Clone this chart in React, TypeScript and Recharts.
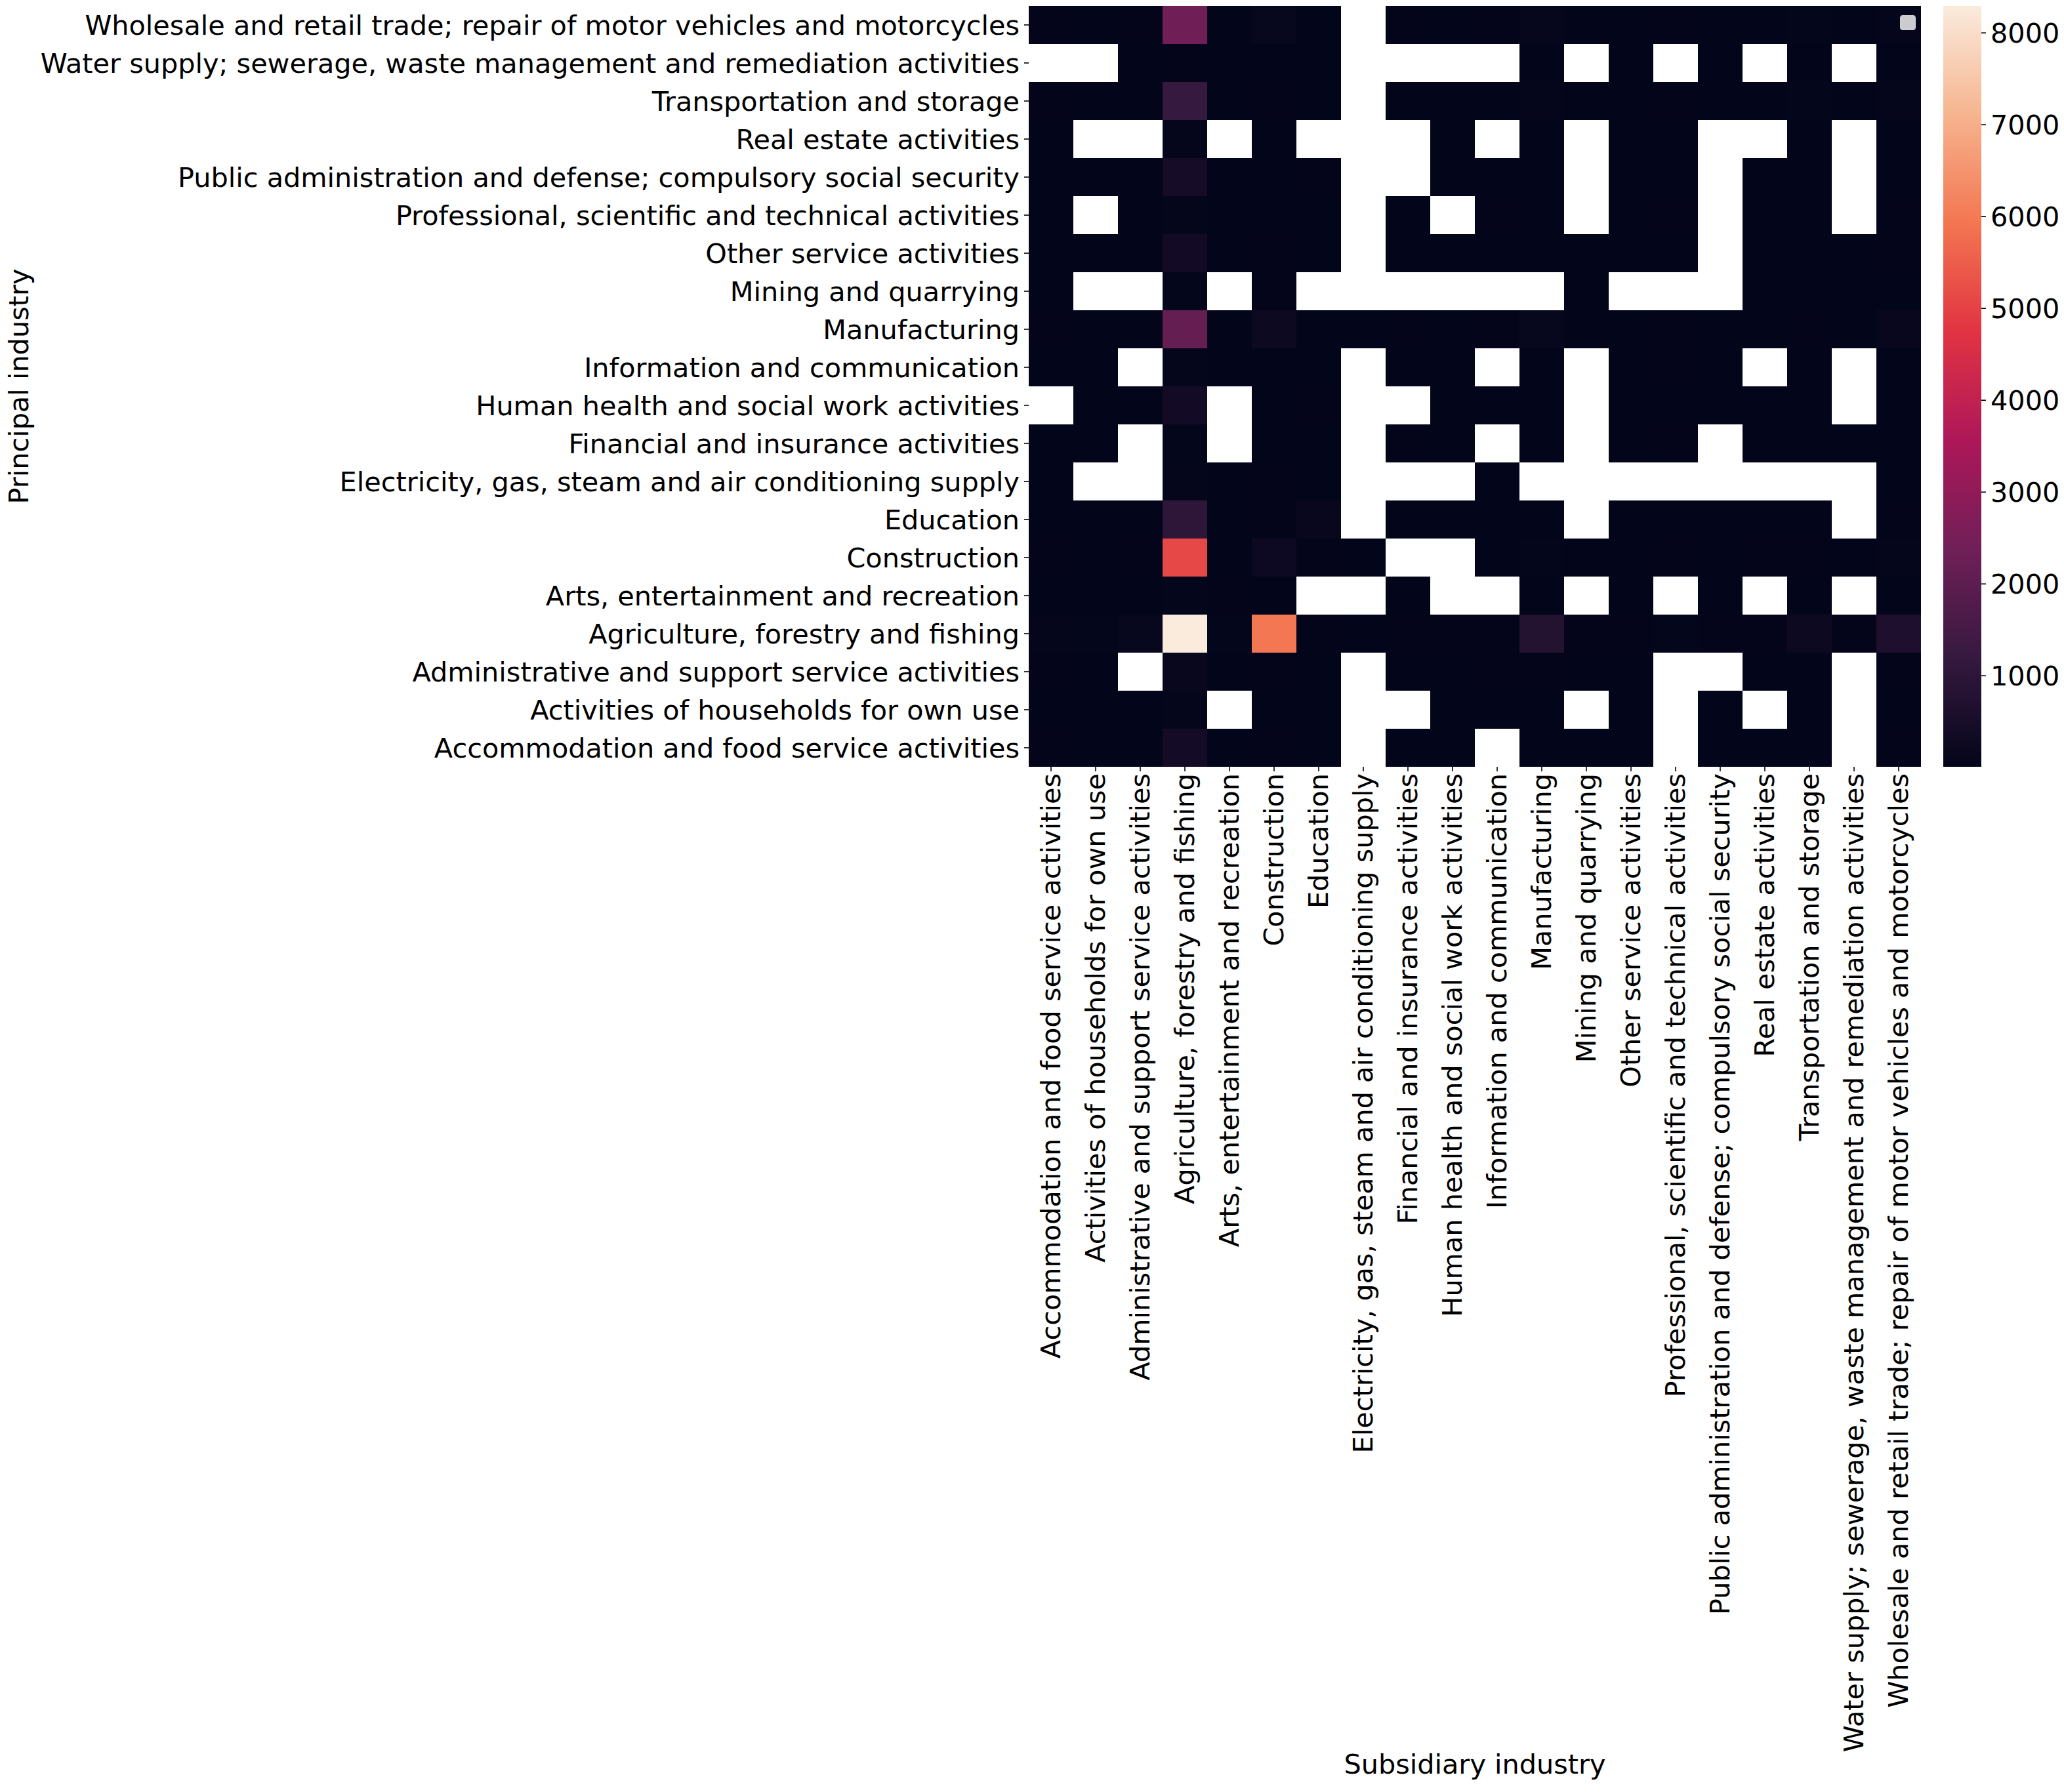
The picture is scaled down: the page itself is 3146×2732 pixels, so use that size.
import React from 'react';
import { BarChart, Bar, XAxis, YAxis, Cell } from 'recharts';

// columns, left to right
const subsidiaryIndustries = [
  'Accommodation and food service activities',
  'Activities of households for own use',
  'Administrative and support service activities',
  'Agriculture, forestry and fishing',
  'Arts, entertainment and recreation',
  'Construction',
  'Education',
  'Electricity, gas, steam and air conditioning supply',
  'Financial and insurance activities',
  'Human health and social work activities',
  'Information and communication',
  'Manufacturing',
  'Mining and quarrying',
  'Other service activities',
  'Professional, scientific and technical activities',
  'Public administration and defense; compulsory social security',
  'Real estate activities',
  'Transportation and storage',
  'Water supply; sewerage, waste management and remediation activities',
  'Wholesale and retail trade; repair of motor vehicles and motorcycles',
];

// rows, top to bottom
const principalIndustries = [
  'Wholesale and retail trade; repair of motor vehicles and motorcycles',
  'Water supply; sewerage, waste management and remediation activities',
  'Transportation and storage',
  'Real estate activities',
  'Public administration and defense; compulsory social security',
  'Professional, scientific and technical activities',
  'Other service activities',
  'Mining and quarrying',
  'Manufacturing',
  'Information and communication',
  'Human health and social work activities',
  'Financial and insurance activities',
  'Electricity, gas, steam and air conditioning supply',
  'Education',
  'Construction',
  'Arts, entertainment and recreation',
  'Agriculture, forestry and fishing',
  'Administrative and support service activities',
  'Activities of households for own use',
  'Accommodation and food service activities',
];

// counts[row][col], null = no data (blank cell)
const counts: (number | null)[][] = [
  [30, 12, 25, 2350, 20, 110, 15, null, 25, 20, 30, 80, 10, 18, 35, 12, 20, 40, 15, 60],
  [null, null, 12, 30, 10, 15, 12, null, null, null, null, 20, null, 10, null, 10, null, 12, null, 15],
  [25, 10, 20, 1200, 15, 30, 12, null, 20, 15, 20, 45, 12, 15, 25, 15, 20, 40, 12, 45],
  [12, null, null, 50, null, 20, null, null, null, 12, null, 15, null, 10, 15, null, null, 12, null, 20],
  [15, 10, 15, 450, 12, 20, 25, null, null, 15, 20, 15, null, 12, 20, null, 12, 15, null, 20],
  [18, null, 20, 45, 12, 18, 20, null, 15, null, 25, 20, null, 12, 30, null, 15, 15, null, 25],
  [15, 10, 15, 380, 15, 25, 15, null, 12, 15, 15, 20, 10, 20, 18, null, 15, 15, 10, 25],
  [15, null, null, 40, null, 25, null, null, null, null, null, null, 12, null, null, null, 10, 12, 10, 20],
  [25, 12, 20, 2150, 20, 220, 20, 12, 25, 15, 30, 110, 15, 15, 30, 12, 20, 35, 15, 150],
  [15, 10, null, 60, 12, 18, 15, null, 15, 12, null, 20, null, 12, 25, 12, null, 15, null, 20],
  [null, 12, 15, 380, null, 15, 30, null, null, 20, 15, 15, null, 15, 20, 15, 12, 12, null, 20],
  [15, 10, null, 40, null, 15, 15, null, 25, 12, null, 15, null, 12, 25, null, 15, 12, 10, 20],
  [12, null, null, 45, 10, 25, 12, null, null, null, 12, null, null, null, null, null, null, null, null, 15],
  [20, 10, 15, 1000, 20, 25, 120, null, 15, 20, 20, 20, null, 15, 20, 15, 15, 15, null, 25],
  [30, 12, 25, 5100, 20, 260, 25, 12, null, null, 20, 40, 15, 20, 30, 15, 25, 30, 15, 45],
  [20, 10, 15, 40, 25, 20, null, null, 12, null, null, 15, null, 15, null, 10, null, 12, null, 20],
  [50, 40, 110, 8294, 40, 5950, 30, 20, 30, 25, 30, 780, 35, 25, 40, 30, 35, 250, 30, 620],
  [25, 12, null, 150, 20, 30, 20, null, 20, 20, 25, 25, 15, 20, null, null, 20, 20, null, 25],
  [15, 9, 12, 60, null, 15, 12, null, null, 12, 12, 15, null, 12, null, 12, null, 12, null, 15],
  [30, 12, 20, 400, 15, 25, 20, null, 15, 15, null, 20, 12, 15, null, 12, 15, 20, null, 25],
];

const colorMin = 9;
const colorMax = 8294;
const colorbarTicks = [1000, 2000, 3000, 4000, 5000, 6000, 7000, 8000];

// seaborn "rocket"
const ROCKET: [number, string][] = [
  [0, '#03051a'],
  [1 / 7, '#35193e'],
  [2 / 7, '#701f57'],
  [3 / 7, '#ad1759'],
  [4 / 7, '#e13342'],
  [5 / 7, '#f37651'],
  [6 / 7, '#f6b48f'],
  [1, '#faebdd'],
];

const FONT_SIZE = 41.4;

const hexToRgb = (h: string) => [1, 3, 5].map((i) => parseInt(h.slice(i, i + 2), 16));

function rocket(v: number) {
  const t = Math.min(1, Math.max(0, (v - colorMin) / (colorMax - colorMin)));
  for (let i = 1; i < ROCKET.length; i++) {
    const [p1, c1] = ROCKET[i];
    if (t <= p1) {
      const [p0, c0] = ROCKET[i - 1];
      const f = (t - p0) / (p1 - p0);
      const a = hexToRgb(c0);
      const b = hexToRgb(c1);
      const rgb = a.map((x, k) => Math.round(x + (b[k] - x) * f));
      return `rgb(${rgb.join(',')})`;
    }
  }
  return ROCKET[ROCKET.length - 1][1];
}

const cellColor = (v: number | null) => (v === null ? 'transparent' : rocket(v));

// one unit per column, stacked across each row
const heatRows = principalIndustries.map((name) => {
  const row: Record<string, string | number> = { name };
  subsidiaryIndustries.forEach((_, c) => {
    row[`c${c}`] = 1;
  });
  return row;
});

const columnTicks = subsidiaryIndustries.map((_, c) => c + 0.5);

function ColumnTick(props: any) {
  const { x, y, payload } = props;
  const label = subsidiaryIndustries[Math.floor(payload.value)];
  return (
    <g transform={`translate(${x},${y})`}>
      <text transform="rotate(-90)" textAnchor="end" dominantBaseline="central" fontSize={FONT_SIZE} fill="#000">
        {label}
      </text>
    </g>
  );
}

const tickLineStyle = { stroke: '#000', strokeWidth: 1.6 };

export default function App() {
  return (
    <div
      style={{
        position: 'absolute',
        left: 0,
        top: 0,
        width: 3146,
        height: 2732,
        background: '#fff',
        fontFamily: '"DejaVu Sans", sans-serif',
      }}
    >
      <BarChart
        width={3146}
        height={2732}
        data={heatRows}
        layout="vertical"
        margin={{ top: 9, right: 218, bottom: 0, left: 0 }}
        barCategoryGap={0}
        barGap={0}
      >
        <XAxis
          type="number"
          domain={[0, 20]}
          ticks={columnTicks}
          interval={0}
          height={1563}
          tick={<ColumnTick />}
          tickSize={7}
          tickMargin={3}
          axisLine={false}
          tickLine={tickLineStyle}
          label={{ value: 'Subsidiary industry', position: 'insideBottom', offset: 28, fill: '#000', fontSize: FONT_SIZE }}
        />
        <YAxis
          type="category"
          dataKey="name"
          width={1568}
          interval={0}
          tick={{ fill: '#000', fontSize: FONT_SIZE }}
          tickSize={7}
          tickMargin={7}
          axisLine={false}
          tickLine={tickLineStyle}
          label={{
            value: 'Principal industry',
            angle: -90,
            position: 'insideLeft',
            offset: 28,
            fill: '#000',
            fontSize: FONT_SIZE,
            style: { textAnchor: 'middle' },
          }}
        />
        {subsidiaryIndustries.map((_, c) => (
          <Bar key={c} dataKey={`c${c}`} stackId="cells" isAnimationActive={false}>
            {principalIndustries.map((__, r) => (
              <Cell key={r} fill={cellColor(counts[r][c])} />
            ))}
          </Bar>
        ))}
      </BarChart>

      {/* empty legend frame, as drawn by matplotlib */}
      <div
        style={{
          position: 'absolute',
          left: 2896,
          top: 23,
          width: 24,
          height: 23,
          boxSizing: 'border-box',
          background: '#cbcbd0',
          border: '1px solid #d0d0d4',
          borderRadius: 4,
        }}
      />

      <div style={{ position: 'absolute', left: 2962, top: 0 }}>
        <BarChart
          width={184}
          height={1180}
          data={[{ name: 'scale', range: [colorMin, colorMax] }]}
          margin={{ top: 9, right: 0, bottom: 11, left: 0 }}
          barCategoryGap={0}
        >
          <defs>
            <linearGradient id="rocketGradient" x1="0" y1="1" x2="0" y2="0">
              {ROCKET.map(([p, c]) => (
                <stop key={p} offset={p} stopColor={c} />
              ))}
            </linearGradient>
          </defs>
          <XAxis dataKey="name" hide />
          <YAxis
            orientation="right"
            type="number"
            domain={[colorMin, colorMax]}
            ticks={colorbarTicks}
            interval={0}
            width={126}
            tick={{ fill: '#000', fontSize: FONT_SIZE }}
            tickSize={7}
            tickMargin={7}
            axisLine={false}
            tickLine={tickLineStyle}
          />
          <Bar dataKey="range" fill="url(#rocketGradient)" isAnimationActive={false} />
        </BarChart>
      </div>
    </div>
  );
}
